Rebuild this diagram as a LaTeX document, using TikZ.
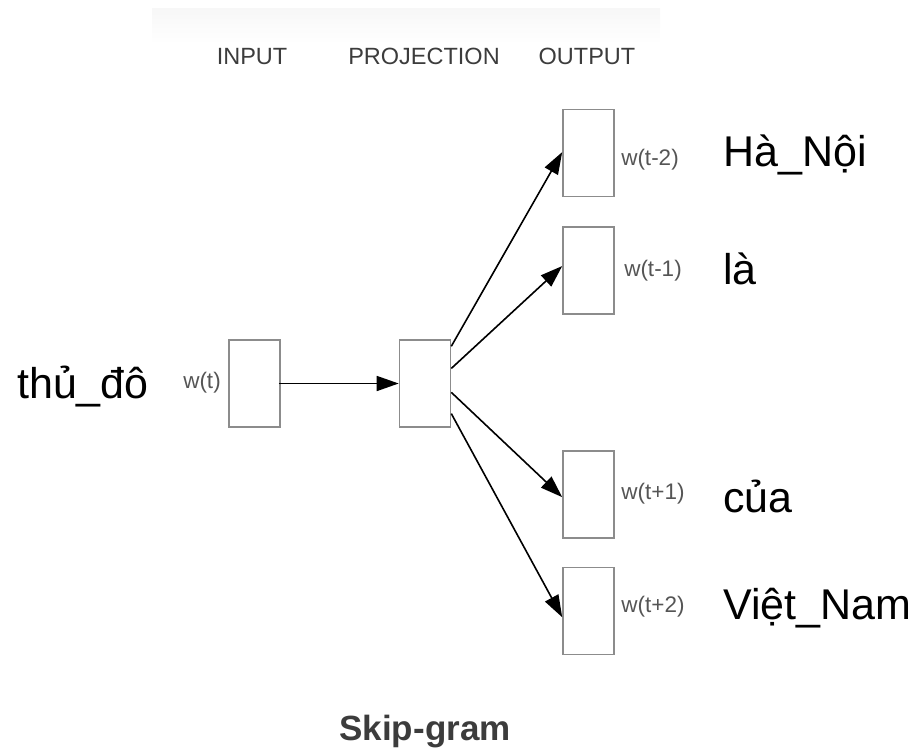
\documentclass[tikz,border=0pt]{standalone}
\usepackage{fontspec}
\setmainfont{Liberation Sans}
\usetikzlibrary{arrows.meta,calc}
\definecolor{boxgray}{HTML}{8C8C8C}
\definecolor{labelgray}{HTML}{555555}
\definecolor{headgray}{HTML}{3C3C3C}
\begin{document}
\begin{tikzpicture}[x=1pt,y=-1pt,
  vec/.style={draw=boxgray,line width=1.6pt,minimum width=51pt,minimum height=87pt,inner sep=0pt,fill=white},
  conn/.style={line width=1.6pt,-{Triangle[length=22pt,width=15pt]}},
  wlab/.style={text=labelgray,font=\fontsize{22.5}{22.5}\selectfont,inner sep=0pt},
  word/.style={font=\fontsize{43}{43}\selectfont,anchor=base west,inner sep=0pt},
  head/.style={text=headgray,font=\fontsize{23.5}{23.5}\selectfont,anchor=base,inner sep=0pt}]
\useasboundingbox (0,0) rectangle (916,749);
% faint banner behind the column titles
\shade[top color=black!3,bottom color=white] (152,9) rectangle (660,44);

% column titles
\node[head] (hin) at (252,65) {INPUT};
\node[head] (hproj) at (424,65) {PROJECTION};
\node[head] (hout) at (587,65) {OUTPUT};

% layers
\node[vec] (in) at (254.5,383.5) {};
\node[vec] (proj) at (425,383.5) {};
\node[vec] (o1) at (588.5,153) {};
\node[vec] (o2) at (588.5,270.5) {};
\node[vec] (o3) at (588.5,494.5) {};
\node[vec] (o4) at (588.5,611) {};

% vector labels
\node[wlab] (lt) at (202,383) {w(t)};
\node[wlab] (l1) at (650,160) {w(t-2)};
\node[wlab] (l2) at (653,271) {w(t-1)};
\node[wlab] (l3) at (653,494) {w(t+1)};
\node[wlab] (l4) at (653,607) {w(t+2)};

% words
\node[word] (win) at (17,398) {thủ\_đô};
\node[word] (w1) at (723,167) {Hà\_Nội};
\node[word] (w2) at (723,284) {là};
\node[word] (w3) at (723,512) {của};
\node[word] (w4) at (723,619) {Việt\_Nam};

% connection points on the projection layer
\coordinate (s1) at ($(proj.north east)!0.08!(proj.south east)$);
\coordinate (s2) at ($(proj.north east)!0.33!(proj.south east)$);
\coordinate (s3) at ($(proj.north east)!0.60!(proj.south east)$);
\coordinate (s4) at ($(proj.north east)!0.84!(proj.south east)$);
\coordinate (e1) at ($(o1.north west)!0.49!(o1.south west)$);
\coordinate (e2) at ($(o2.north west)!0.45!(o2.south west)$);
\coordinate (e3) at ($(o3.north west)!0.53!(o3.south west)$);
\coordinate (e4) at ($(o4.north west)!0.57!(o4.south west)$);
\coordinate (sin) at ($(in.east)+(-2,0)$);

% connectors
\draw[conn] (sin) -- (proj.west);
\draw[conn] (s1) -- (e1);
\draw[conn] (s2) -- (e2);
\draw[conn] (s3) -- (e3);
\draw[conn] (s4) -- (e4);

% caption
\node[text=headgray,font=\bfseries\fontsize{35}{35}\selectfont,anchor=base,inner sep=0pt] (cap) at (425,740) {Skip-gram};
\end{tikzpicture}
\end{document}
